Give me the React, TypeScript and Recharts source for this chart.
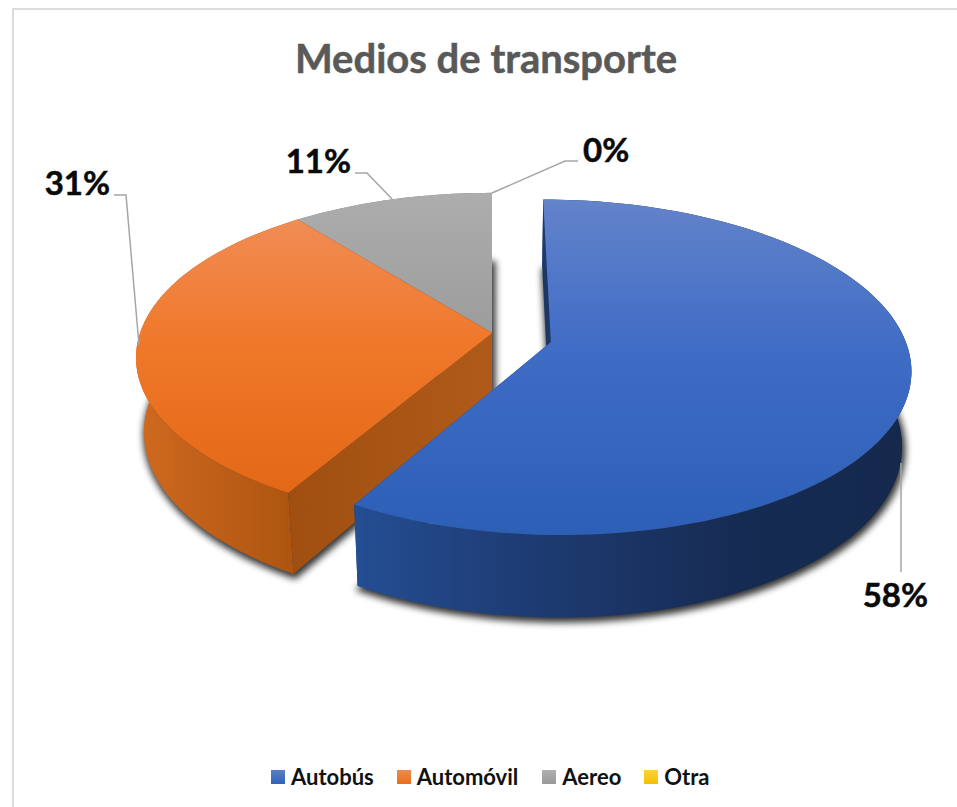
import React from "react";
import { PieChart, Pie, Legend } from "recharts";

const categories = ["Autobús", "Automóvil", "Aereo", "Otra"];
const shares = [58.4, 31.0, 10.6, 0];
const chartTitle = "Medios de transporte";

// Drawn back to front, so the table runs in reverse and the pie runs the other way round.
const table = categories.map((name, i) => ({ name, value: shares[i] })).reverse();

const TILT = 0.458;
const PERSPECTIVE = 0.15;
const DEPTH = 0.215;
const DEPTH_PERSPECTIVE = 0.022;

const explode: Record<string, [number, number]> = { "Autobús": [0.166, -0.055] };

const topFill: Record<string, string> = { "Autobús": "blueTop", "Automóvil": "orangeTop", Aereo: "greyTop", Otra: "yellowTop" };
const wallFill: Record<string, string> = { "Autobús": "blueWall", "Automóvil": "orangeWall", Aereo: "greyWall", Otra: "greyWall" };
const sideFill: Record<string, string> = { "Autobús": "#1b3766", "Automóvil": "orangeSide", Aereo: "#7a7a7a", Otra: "#7a7a7a" };

const leaders: Record<string, { points: string; x: number; y: number; anchor: "start" | "end" }> = {
  "Autobús": { points: "901,463 901,572", x: 928, y: 607, anchor: "end" },
  "Automóvil": { points: "114,195 126,195 139,345", x: 110, y: 195, anchor: "end" },
  Aereo: { points: "355,173 367,173 392,199", x: 351, y: 173, anchor: "end" },
  Otra: { points: "492,193 565,161 578,161", x: 583, y: 162, anchor: "start" },
};

const legendSwatchCss = [
  "linear-gradient(#5a7fc9,#2f62bb)",
  "linear-gradient(#f08a50,#ea6e1c)",
  "linear-gradient(#b0b0b0,#999999)",
  "linear-gradient(#ffd040,#f5bf00)",
];
const legendGaps = [0, 23, 24, 23];

type Pt = [number, number];

function Sector3D(props: any) {
  const { cx, cy, outerRadius: R, startAngle, endAngle, name } = props;
  if (Math.abs(endAngle - startAngle) < 0.01) return <g />;
  const [eu, ev] = explode[name] || [0, 0];
  const project = (angle: number, r: number, h: number): Pt => {
    const t = (angle * Math.PI) / 180;
    const u = r * Math.cos(t) + eu;
    const v = r * Math.sin(t) + ev;
    const w = 1 + PERSPECTIVE * v + DEPTH_PERSPECTIVE * h;
    return [cx + (R * u) / w, cy + (R * (-TILT * v + DEPTH * h)) / w];
  };
  const steps = Math.max(2, Math.ceil(Math.abs(endAngle - startAngle) / 1.5));
  const arc = (h: number): Pt[] => {
    const out: Pt[] = [];
    for (let i = 0; i <= steps; i++) out.push(project(startAngle + ((endAngle - startAngle) * i) / steps, 1, h));
    return out;
  };
  const d = (pts: Pt[]) => "M" + pts.map((p) => `${p[0].toFixed(1)} ${p[1].toFixed(1)}`).join("L") + "Z";
  const topArc = arc(0);
  const bottomArc = arc(1);
  const apexTop = project(0, 0, 0);
  const apexBottom = project(0, 0, 1);
  const fillOf = (f: string) => (f.startsWith("#") ? f : `url(#${f})`);
  return (
    <g>
      <path d={d([apexBottom, ...bottomArc])} fill="#000" stroke="#000" strokeWidth={4} opacity={0.8} filter="url(#softShadow)" transform="translate(1.5 3)" />
      <path d={d([apexTop, topArc[0], bottomArc[0], apexBottom])} fill={fillOf(sideFill[name])} />
      <path d={d([apexTop, topArc[steps], bottomArc[steps], apexBottom])} fill={fillOf(sideFill[name])} />
      <path d={d([...topArc, ...bottomArc.slice().reverse()])} fill={`url(#${wallFill[name]})`} />
      <path d={d([apexTop, ...topArc])} fill={`url(#${topFill[name]})`} />
    </g>
  );
}

function SliceLabel(props: any) {
  const { name, percent } = props;
  const l = leaders[name];
  return (
    <g>
      <polyline points={l.points} fill="none" stroke="#a6a6a6" strokeWidth={1.5} />
      <text x={l.x} y={l.y} textAnchor={l.anchor} fontFamily="Lato" fontWeight={700} fontSize={33} fill="#0a0a0a" stroke="#0a0a0a" strokeWidth={0.5}>
        {`${Math.round(percent * 100)}%`}
      </text>
    </g>
  );
}

function LegendRow() {
  return (
    <div style={{ display: "flex", alignItems: "center", justifyContent: "flex-start", fontFamily: "Lato", fontWeight: 700, fontSize: 22, lineHeight: "30px", color: "#111", whiteSpace: "nowrap" }}>
      {categories.map((c, i) => (
        <span key={c} style={{ display: "flex", alignItems: "center", marginLeft: legendGaps[i] }}>
          <span style={{ width: 14, height: 14, background: legendSwatchCss[i], marginRight: 6, display: "inline-block" }} />
          {c}
        </span>
      ))}
    </div>
  );
}

export default function App() {
  return (
    <div style={{ position: "absolute", left: 0, top: 0, width: 957, height: 807, overflow: "hidden", background: "#fff" }}>
      <div style={{ position: "absolute", left: 12, top: 8, width: 945, height: 799, borderLeft: "2px solid #dcdcdc", borderTop: "2px solid #dcdcdc", boxSizing: "border-box" }} />
      <div style={{ position: "absolute", left: 0, width: 972, top: 35, textAlign: "center", fontFamily: "Lato", fontWeight: 700, fontSize: 40, lineHeight: "46px", color: "#595959", WebkitTextStroke: "0.5px #595959" }}>
        {chartTitle}
      </div>
      <PieChart width={957} height={807} margin={{ top: 0, right: 0, bottom: 0, left: 0 }}>
        <defs>
          <linearGradient id="blueTop" x1="0" y1="0" x2="0" y2="1">
            <stop offset="0" stopColor="#6383ca" />
            <stop offset="0.45" stopColor="#3f6cc5" />
            <stop offset="1" stopColor="#2d5fb6" />
          </linearGradient>
          <linearGradient id="orangeTop" x1="0" y1="0" x2="0" y2="1">
            <stop offset="0" stopColor="#f08c55" />
            <stop offset="0.45" stopColor="#f0782a" />
            <stop offset="1" stopColor="#e36816" />
          </linearGradient>
          <linearGradient id="greyTop" x1="0" y1="0" x2="0" y2="1">
            <stop offset="0" stopColor="#adadad" />
            <stop offset="1" stopColor="#9c9c9c" />
          </linearGradient>
          <linearGradient id="yellowTop" x1="0" y1="0" x2="0" y2="1">
            <stop offset="0" stopColor="#ffd040" />
            <stop offset="1" stopColor="#f5bf00" />
          </linearGradient>
          <linearGradient id="blueWall" x1="0" y1="0" x2="1" y2="0">
            <stop offset="0" stopColor="#244e93" />
            <stop offset="0.3" stopColor="#1e3c74" />
            <stop offset="0.7" stopColor="#162b52" />
            <stop offset="1" stopColor="#15294d" />
          </linearGradient>
          <linearGradient id="orangeWall" x1="0" y1="0" x2="1" y2="0">
            <stop offset="0" stopColor="#d0691f" />
            <stop offset="1" stopColor="#ab5410" />
          </linearGradient>
          <linearGradient id="orangeSide" x1="0" y1="0" x2="1" y2="0">
            <stop offset="0" stopColor="#a04f10" />
            <stop offset="1" stopColor="#b05a1a" />
          </linearGradient>
          <linearGradient id="greyWall" x1="0" y1="0" x2="1" y2="0">
            <stop offset="0" stopColor="#8a8a8a" />
            <stop offset="1" stopColor="#6e6e6e" />
          </linearGradient>
          <filter id="softShadow" x="-10%" y="-10%" width="120%" height="120%">
            <feGaussianBlur stdDeviation="3.5" />
          </filter>
        </defs>
        <Pie
          data={table}
          dataKey="value"
          nameKey="name"
          cx={492}
          cy={333}
          innerRadius={0}
          outerRadius={352}
          startAngle={90}
          endAngle={450}
          stroke="none"
          shape={Sector3D}
          label={SliceLabel}
          labelLine={false}
          isAnimationActive={false}
        />
        <Legend content={<LegendRow />} wrapperStyle={{ left: 271, top: 762, width: 520, height: 30, bottom: "auto" }} />
      </PieChart>
    </div>
  );
}
